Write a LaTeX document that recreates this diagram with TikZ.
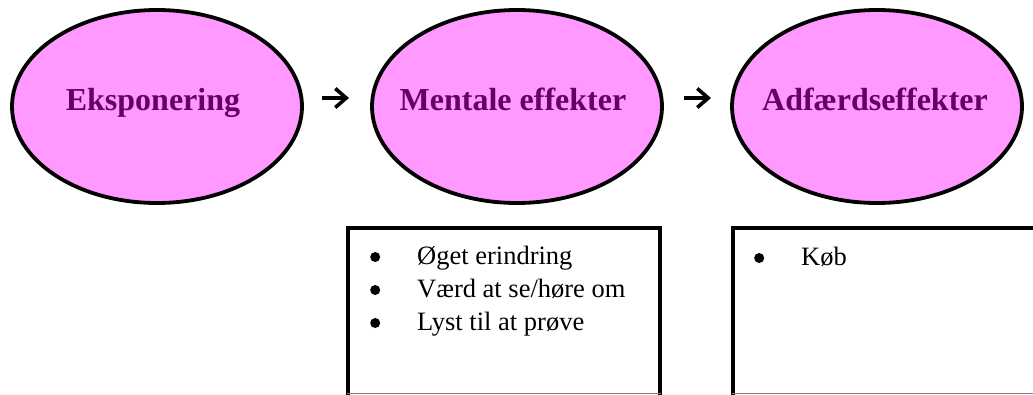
\documentclass[tikz,border=0pt]{standalone}
\usepackage{fontspec}
\setmainfont{Liberation Serif}
\usetikzlibrary{shapes.geometric,arrows.meta}
\definecolor{pinkfill}{HTML}{FF99FF}
\definecolor{plum}{HTML}{660066}
\tikzset{
  oval/.style={ellipse, draw=black, line width=3.8pt, fill=pinkfill, minimum width=290pt, minimum height=193pt, inner sep=0pt},
  heading/.style={anchor=base, text=plum, font=\fontsize{32}{38}\selectfont\bfseries, inner sep=0pt},
  boxside/.style={line width=3.8pt, line cap=rect},
  boxbottom/.style={line width=0.8pt, draw=gray},
  flow/.style={line width=3.6pt, -{Straight Barb[length=11pt,width=19pt,line width=3.6pt]}},
  listtext/.style={anchor=base west, inner sep=0pt, font=\fontsize{26.5}{33}\selectfont}
}
\newcommand{\bul}{\makebox[47pt][l]{\tikz[baseline=-7pt]\fill (5pt,0pt) circle (5pt);}}
\begin{document}
\begin{tikzpicture}[x=1pt,y=-1pt]
\useasboundingbox (0,0) rectangle (1033,394);
% ellipses
\node[oval] (e1) at (157,106.5) {};
\node[oval] (e2) at (517,106.5) {};
\node[oval] (e3) at (877,106.5) {};
\node[heading] (t1) at (153,110) {Eksponering};
\node[heading] (t2) at (513,110) {Mentale effekter};
\node[heading] (t3) at (875,110) {Adfærdseffekter};
% arrows
\coordinate (a1s) at (322,98);
\coordinate (a1e) at (349,98);
\coordinate (a2s) at (684,98);
\coordinate (a2e) at (711,98);
\draw[flow] (a1s) -- (a1e);
\draw[flow] (a2s) -- (a2e);
% boxes
\coordinate (b1bl) at (348,394);
\coordinate (b1tl) at (348,228);
\coordinate (b1tr) at (660,228);
\coordinate (b1br) at (660,394);
\draw[boxside] (b1bl) -- (b1tl) -- (b1tr) -- (b1br);
\draw[boxbottom] (347,393.5) -- (661,393.5);
\coordinate (b2bl) at (733,394);
\coordinate (b2tl) at (733,228);
\coordinate (b2tr) at (1040,228);
\draw[boxside] (b2bl) -- (b2tl) -- (b2tr);
\draw[boxbottom] (732,393.5) -- (1033,393.5);
% lists
\node[listtext] (l1) at (370,264) {\begin{tabular}[t]{@{}l@{}}
\bul Øget erindring\\
\bul Værd at se/høre om\\
\bul Lyst til at prøve
\end{tabular}};
\node[listtext] (l2) at (754,265) {\begin{tabular}[t]{@{}l@{}}
\bul Køb
\end{tabular}};
\end{tikzpicture}
\end{document}
